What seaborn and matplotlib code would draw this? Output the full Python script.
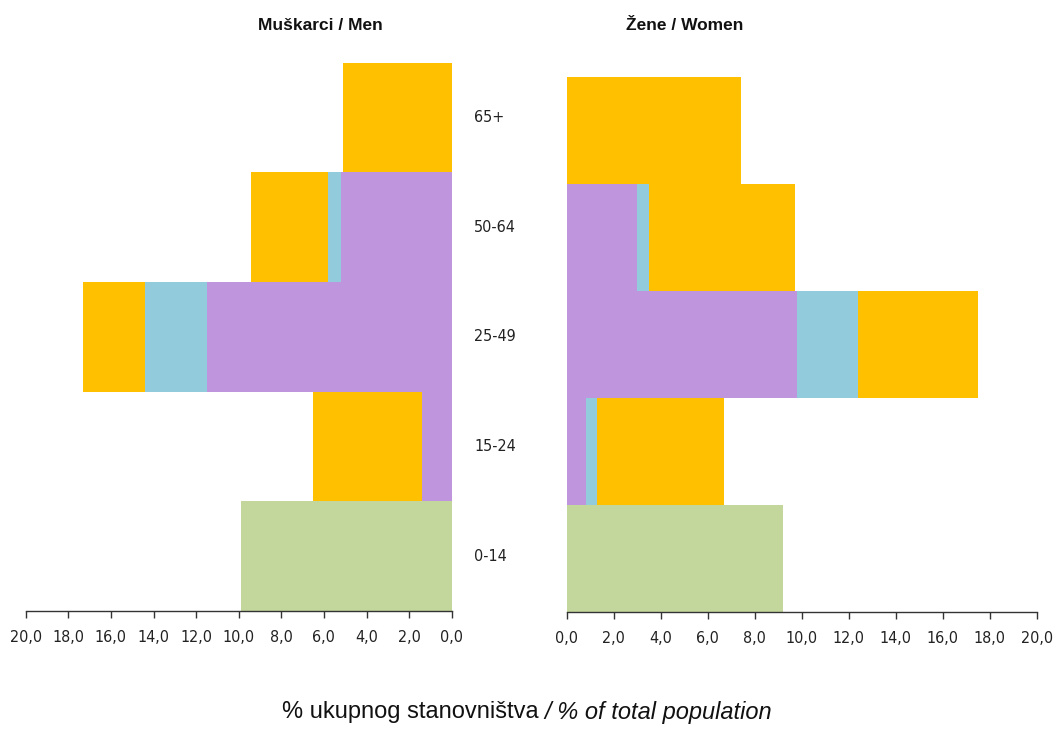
import matplotlib
matplotlib.use("Agg")
import matplotlib.pyplot as plt
import matplotlib.transforms as mtransforms
import seaborn as sns
import pandas as pd
import numpy as np

ages = ['65+', '50-64', '25-49', '15-24', '0-14']
men_employed = [0.0, 5.2, 11.5, 1.4, 0.0]
men_unemployed = [0.0, 0.6, 2.9, 0.0, 0.0]
men_inactive = [5.1, 3.6, 2.9, 5.1, 0.0]
men_children = [0.0, 0.0, 0.0, 0.0, 9.9]
women_employed = [0.0, 3.0, 9.8, 0.8, 0.0]
women_unemployed = [0.0, 0.5, 2.6, 0.5, 0.0]
women_inactive = [7.4, 6.2, 5.1, 5.4, 0.0]
women_children = [0.0, 0.0, 0.0, 0.0, 9.2]
xticks = [0, 2, 4, 6, 8, 10, 12, 14, 16, 18, 20]

C_EMP = '#BF95DE'
C_UNE = '#92CBDC'
C_INA = '#FFC000'
C_CHI = '#C3D69B'

sns.set_style('white')
plt.rcParams['font.family'] = ['Liberation Sans', 'DejaVu Sans']
TICKFONT = ['DejaVu Sans']

W, H = 1054, 733
fig = plt.figure(figsize=(W / 100, H / 100), dpi=100)

ax_m = fig.add_axes([25.7 / W, 1 - 611 / H, (451.7 - 25.7) / W, (611 - 62.7) / H])
ax_w = fig.add_axes([566.7 / W, 1 - 611.5 / H, (1036.7 - 566.7) / W, (611.5 - 77.3) / H])


def draw(ax, emp, une, ina, chi):
    emp = np.array(emp)
    une = np.array(une)
    ina = np.array(ina)
    df = pd.DataFrame({
        'age': ages,
        'total': emp + une + ina,
        'empune': emp + une,
        'emp': emp,
        'chi': chi,
    })
    for col, c in [('total', C_INA), ('empune', C_UNE), ('emp', C_EMP), ('chi', C_CHI)]:
        sns.barplot(data=df, y='age', x=col, order=ages, orient='h', color=c,
                    width=1.0, saturation=1, linewidth=0, ax=ax)
    ax.set_xlim(0, 20)
    ax.set_ylim(4.5, -0.5)
    ax.set_xticks(xticks)
    ax.set_xticklabels([f'{v:.1f}'.replace('.', ',') for v in xticks],
                       fontfamily=TICKFONT, fontstretch='condensed',
                       fontsize=11.5, color='#222222')
    ax.set_yticks([])
    ax.set_xlabel('')
    ax.set_ylabel('')
    for s in ['top', 'right', 'left']:
        ax.spines[s].set_visible(False)
    ax.spines['bottom'].set_color('#333333')
    ax.spines['bottom'].set_linewidth(1.0)
    ax.tick_params(axis='x', direction='out', length=5, width=1, color='#333333',
                   pad=9, bottom=True)


draw(ax_m, men_employed, men_unemployed, men_inactive, men_children)
ax_m.invert_xaxis()
draw(ax_w, women_employed, women_unemployed, women_inactive, women_children)

trans = mtransforms.blended_transform_factory(fig.transFigure, ax_m.transData)
for i, a in enumerate(ages):
    fig.text(474 / W, i, a, transform=trans, ha='left', va='center',
             fontsize=11.5, color='#222222', fontfamily=TICKFONT,
             fontstretch='condensed')

fig.text(320 / W, 1 - 25 / H, 'Muškarci / Men', ha='center', va='center',
         fontsize=12.5, fontweight='bold', color='#111111')
fig.text(685 / W, 1 - 25 / H, 'Žene / Women', ha='center', va='center',
         fontsize=12.5, fontweight='bold', color='#111111')

t1 = fig.text(527 / W, 1 - 712 / H, '% ukupnog stanovništva ', ha='right', va='center',
              fontsize=17, color='#111111')
t2 = fig.text(527 / W, 1 - 712 / H, '/ % of total population', ha='left', va='center',
              fontsize=17, fontstyle='italic', color='#111111')
# centre the two-part label as a whole
fig.canvas.draw()
r = fig.canvas.get_renderer()
w1 = t1.get_window_extent(r).width
w2 = t2.get_window_extent(r).width
shift = (w1 - w2) / 2 / W
t1.set_x(527 / W + shift)
t2.set_x(527 / W + shift)

fig.savefig('out.png', dpi=100)
